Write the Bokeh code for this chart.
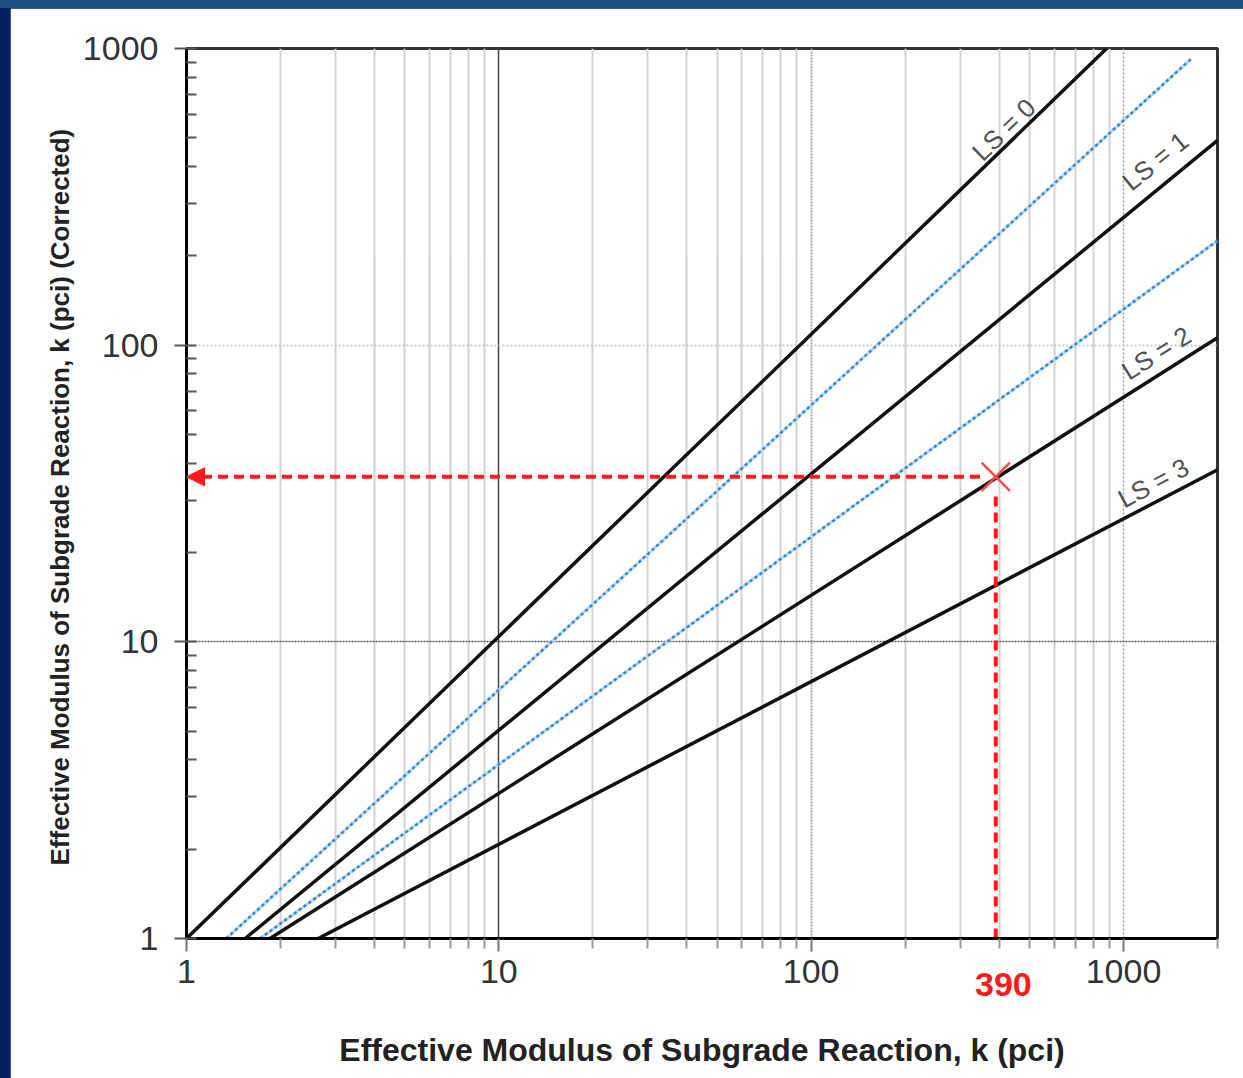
from bokeh.plotting import figure
from bokeh.models import FixedTicker, Grid, Arrow, NormalHead, Range1d, Div
from bokeh.layouts import column
from bokeh.core.properties import value
from bokeh.embed import file_html
from bokeh.resources import INLINE

# ---- data ----
ls0_x = [1.0, 883.0]
ls0_y = [1.0, 1000.0]
ls1_x = [1.54, 2000.0]
ls1_y = [1.0, 490.0]
ls2_x = [1.85, 2000.0]
ls2_y = [1.0, 106.0]
ls3_x = [2.64, 2000.0]
ls3_y = [1.0, 38.0]
blue_a_x = [1.34, 1650.0]
blue_a_y = [1.0, 925.0]
blue_b_x = [1.72, 2000.0]
blue_b_y = [1.0, 225.0]

k_effective = 390.0
k_corrected = 36.0

major_ticks = [1, 10, 100, 1000]
minor_x = [m * d for d in (1, 10, 100) for m in range(2, 10)] + [2000]
minor_y = [m * d for d in (1, 10, 100) for m in range(2, 10)]

ls_labels = ["LS = 0", "LS = 1", "LS = 2", "LS = 3"]
ls_label_x = [414, 1265, 1274, 1247]
ls_label_y = [533, 417, 94, 34.3]
ls_label_angle = [44, 39, 32, 28]

FONT = "Liberation Sans"

p = figure(width=1233, height=1070, x_axis_type="log", y_axis_type="log",
           x_range=Range1d(1, 2000), y_range=Range1d(1, 1000),
           output_backend="svg", toolbar_location=None,
           min_border_left=176, min_border_right=26, min_border_top=40, min_border_bottom=140,
           background_fill_color="white", border_fill_color="white")
p.margin = (8, 0, 0, 10)

p.xgrid.visible = False
p.ygrid.visible = False

# grids
p.add_layout(Grid(dimension=0, ticker=FixedTicker(ticks=[t for t in minor_x if t < 2000]),
                  grid_line_color="#d2d2d2", grid_line_width=2))
p.add_layout(Grid(dimension=0, ticker=FixedTicker(ticks=[10]),
                  grid_line_color="#444444", grid_line_width=1.5))
p.add_layout(Grid(dimension=0, ticker=FixedTicker(ticks=[100]),
                  grid_line_color="#aaaaaa", grid_line_width=2, grid_line_dash="2 1"))
p.add_layout(Grid(dimension=0, ticker=FixedTicker(ticks=[1000]),
                  grid_line_color="#999999", grid_line_width=1.5, grid_line_dash="2 2"))
p.add_layout(Grid(dimension=1, ticker=FixedTicker(ticks=[10]),
                  grid_line_color="#555555", grid_line_width=1.5, grid_line_dash="2 1"))
p.add_layout(Grid(dimension=1, ticker=FixedTicker(ticks=[100]),
                  grid_line_color="#cccccc", grid_line_width=2, grid_line_dash="2 2"))

# axes
p.xaxis.ticker = FixedTicker(ticks=major_ticks, minor_ticks=minor_x)
p.yaxis.ticker = FixedTicker(ticks=major_ticks, minor_ticks=minor_y)
p.xaxis.major_label_overrides = {1: "1", 10: "10", 100: "100", 1000: "1000"}
p.yaxis.major_label_overrides = {1: "1", 10: "10", 100: "100", 1000: "1000"}

for ax in (p.xaxis[0], p.yaxis[0]):
    ax.axis_line_color = "black"
    ax.axis_line_width = 3
    ax.major_label_text_font = FONT
    ax.major_label_text_font_size = "34px"
    ax.major_label_text_color = "#333333"
    ax.axis_label_text_font = FONT
    ax.axis_label_text_font_style = "bold"
    ax.axis_label_text_color = "#222222"

p.xaxis.major_tick_in = 0
p.xaxis.major_tick_out = 13
p.xaxis.minor_tick_in = 0
p.xaxis.minor_tick_out = 10
p.xaxis.major_tick_line_color = "#777777"
p.xaxis.minor_tick_line_color = "#999999"
p.xaxis.major_tick_line_width = 2
p.xaxis.minor_tick_line_width = 2
p.xaxis.major_label_standoff = 8
p.xaxis.axis_label = "Effective Modulus of Subgrade Reaction, k (pci)"
p.xaxis.axis_label_text_font_size = "32px"
p.xaxis.axis_label_standoff = 46

p.yaxis.major_tick_in = 10
p.yaxis.major_tick_out = 12
p.yaxis.minor_tick_in = 10
p.yaxis.minor_tick_out = 0
p.yaxis.major_tick_line_color = "#555555"
p.yaxis.minor_tick_line_color = "#555555"
p.yaxis.major_tick_line_width = 2
p.yaxis.minor_tick_line_width = 2
p.yaxis.major_label_standoff = 16
p.yaxis.axis_label = "Effective Modulus of Subgrade Reaction, k (pci)  (Corrected)"
p.yaxis.axis_label_text_font_size = "26px"
p.yaxis.axis_label_standoff = 5

p.outline_line_color = "#333333"
p.outline_line_width = 3

# blue dotted lines
for bx, by in ((blue_a_x, blue_a_y), (blue_b_x, blue_b_y)):
    p.line(bx, by, line_color="#b8d8f2", line_width=3)
    p.line(bx, by, line_color="#2f86d4", line_width=2.5, line_dash="3 3")

# black LS lines
for lx, ly in ((ls0_x, ls0_y), (ls1_x, ls1_y), (ls2_x, ls2_y), (ls3_x, ls3_y)):
    p.line(lx, ly, line_color="#111111", line_width=3.5)

# LS labels
p.text(x=ls_label_x, y=ls_label_y, text=ls_labels, angle=ls_label_angle, angle_units="deg",
       text_align="center", text_baseline="middle", text_font=value(FONT),
       text_font_size="26px", text_color="#505050")

# red construction
red = "#ff1a1a"
p.add_layout(Arrow(end=NormalHead(size=18, fill_color=red, line_color=red),
                   x_start=k_effective * 0.89, y_start=k_corrected,
                   x_end=1, y_end=k_corrected,
                   line_color=red, line_width=4, line_dash="10 6"))
p.line([k_effective, k_effective], [1, k_corrected * 0.88], line_color=red,
       line_width=4, line_dash="10 6")
p.scatter([k_effective], [k_corrected], marker="x", size=40, line_color="#ff4a4a", line_width=2.5)

# red "390" tick label below the x axis (outside the plot frame)
label_390 = Div(
    text='<span style="font-family:\'Liberation Sans\';font-weight:bold;font-size:34px;'
         'line-height:1;color:#ff1a1a;white-space:nowrap;">%d</span>' % int(k_effective),
    width=70, height=36, margin=0,
    styles={"position": "absolute", "left": "975px", "top": "967px", "z-index": "10"})

layout = column(p, label_390,
                styles={"background": "linear-gradient(to bottom, #1a4f7e 0px, #1a4f7e 8px, #002060 8px)",
                        "position": "relative"})

open("out.html", "w").write(file_html(layout, INLINE))
